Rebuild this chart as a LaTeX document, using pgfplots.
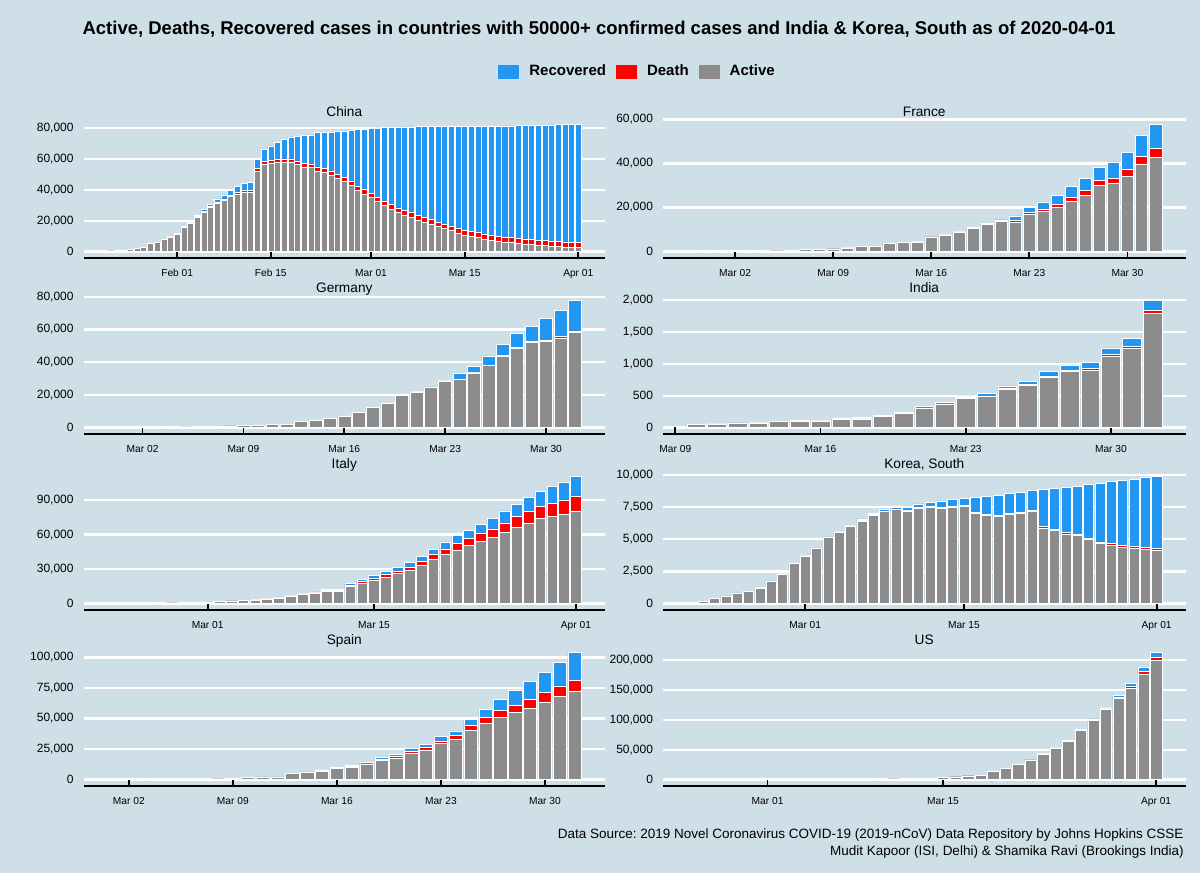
\documentclass[border=0pt]{standalone}
\usepackage{pgfplots}
\usepackage{pgfplotstable}
\pgfplotsset{compat=1.18}
\usepackage{fontspec}
\setmainfont{Liberation Sans}
\frenchspacing
\definecolor{bg}{HTML}{CEDFE7}
\definecolor{rec}{HTML}{2196F3}
\definecolor{dth}{HTML}{FF0000}
\definecolor{act}{HTML}{8C8C8C}

\pgfplotstableread{
d a de r
22 503 17 28
23 595 18 30
24 858 26 36
25 1325 42 39
26 1970 56 49
27 2737 82 58
28 5277 131 101
29 5834 133 120
30 7835 171 135
31 9375 213 214
32 11357 259 275
33 15806 361 463
34 18677 425 614
35 22374 490 843
36 25763 562 1115
37 28479 632 1476
38 31395 717 1998
39 33415 804 2595
40 35707 904 3218
41 37426 1011 3917
42 38640 1111 4635
43 38564 1116 5079
44 52314 1368 6213
45 56865 1520 7973
46 57457 1662 9294
47 58000 1765 10748
48 58116 1863 12455
49 58010 2002 14199
50 56553 2114 15952
51 54839 2236 18002
52 54621 2236 18693
53 51873 2441 22687
54 51409 2443 23170
55 49658 2593 24990
56 47441 2663 27650
57 45398 2715 30053
58 42958 2744 32898
59 39849 2788 36291
60 37242 2835 39279
61 34944 2870 42118
62 32414 2912 44810
63 29912 2945 47404
64 27450 2981 49955
65 25284 3013 52240
66 23760 3042 53888
67 22222 3070 55478
68 20406 3097 57320
69 19005 3120 58735
70 17645 3136 60106
71 16119 3158 61644
72 14862 3169 62901
73 13573 3176 64196
74 12128 3189 65660
75 10787 3199 67017
76 9910 3213 67910
77 9034 3226 68798
78 8110 3237 69755
79 7376 3245 70535
80 6735 3249 71266
81 6193 3255 71857
82 5812 3261 72362
83 5414 3270 72814
84 5034 3277 73280
85 4607 3281 73773
86 4314 3287 74181
87 3885 3292 74720
88 3604 3295 75100
89 3240 3300 75582
90 2971 3304 75923
91 2768 3305 76206
92 2644 3312 76405
}\china

\pgfplotstableread{
d a de r
59 44 2 11
60 86 2 12
61 116 2 12
62 176 3 12
63 188 4 12
64 272 4 12
65 362 6 12
66 635 9 12
67 936 11 12
68 1105 19 12
69 1188 19 12
70 1749 33 12
71 2233 48 12
72 2233 48 12
73 3590 79 12
74 4393 91 12
75 4429 91 12
76 6522 149 12
77 7554 149 12
78 8963 149 12
79 10714 244 12
80 12295 451 12
81 13888 563 12
82 13361 676 2206
83 17055 862 2206
84 18270 1102 3250
85 20360 1333 3907
86 22898 1698 4955
87 25698 1997 5707
88 30064 2317 5724
89 30871 2611 7226
90 34176 3030 7964
91 39782 3532 9513
92 42653 4043 11053
}\france

\pgfplotstableread{
d a de r
60 63 0 16
61 114 0 16
62 143 0 16
63 180 0 16
64 246 0 16
65 466 0 16
66 653 0 17
67 781 0 18
68 1022 0 18
69 1156 2 18
70 1437 2 18
71 1880 3 25
72 2050 3 25
73 3622 7 46
74 4530 9 46
75 5738 11 46
76 7188 17 67
77 9166 24 67
78 12194 28 105
79 15163 44 113
80 19601 67 180
81 21896 84 233
82 24513 94 266
83 28667 123 266
84 29586 157 3243
85 33570 206 3547
86 37998 267 5673
87 43871 342 6658
88 48781 433 8481
89 52351 533 9211
90 52740 645 13500
91 54933 775 16100
92 58252 920 18700
}\germany

\pgfplotstableread{
d a de r
70 52 0 4
71 57 1 4
72 68 1 4
73 76 2 4
74 96 2 4
75 98 2 13
76 104 2 13
77 125 3 14
78 139 3 14
79 175 4 15
80 219 5 20
81 303 4 23
82 362 7 27
83 462 10 27
84 486 10 40
85 602 12 43
86 662 20 45
87 794 20 73
88 879 24 84
89 902 27 95
90 1117 32 102
91 1239 35 123
92 1792 58 148
}\india

\pgfplotstableread{
d a de r
53 59 2 1
54 150 3 2
55 221 7 1
56 311 10 1
57 438 12 3
58 593 17 45
59 821 21 46
60 1053 29 46
61 1577 34 83
62 1835 52 149
63 2263 79 160
64 2706 107 276
65 3296 148 414
66 3916 197 523
67 5061 233 589
68 6387 366 622
69 7985 463 724
70 8794 631 724
71 10590 827 1045
72 10590 827 1045
73 14955 1266 1439
74 17750 1441 1966
75 20603 1809 2335
76 23073 2158 2749
77 26062 2503 2941
78 28710 2978 4025
79 33190 3405 4440
80 38549 4032 4440
81 42681 4825 6072
82 46638 5476 7024
83 50418 6077 7432
84 54030 6820 8326
85 57521 7503 9362
86 62013 8215 10361
87 66414 9134 10950
88 70065 10023 12384
89 73880 10779 13030
90 75528 11591 14620
91 77635 12428 15729
92 80572 13155 16847
}\italy

\pgfplotstableread{
d a de r
51 87 1 16
52 186 2 16
53 415 2 16
54 578 6 18
55 807 8 18
56 945 10 22
57 1227 12 22
58 1731 13 22
59 2302 13 22
60 3107 16 27
61 3689 17 30
62 4277 28 30
63 5128 28 30
64 5545 35 41
65 6012 35 41
66 6416 42 135
67 6862 44 135
68 7146 50 118
69 7307 53 118
70 7212 54 247
71 7407 60 288
72 7470 66 333
73 7403 66 510
74 7504 72 510
75 7577 75 510
76 7024 75 1137
77 6832 81 1407
78 6789 84 1540
79 6934 91 1540
80 7018 94 1540
81 7157 102 1540
82 5884 104 2909
83 5684 111 3166
84 5410 120 3507
85 5281 126 3730
86 4966 131 4144
87 4665 139 4528
88 4523 144 4811
89 4398 152 5033
90 4275 158 5228
91 4216 162 5408
92 4155 165 5567
}\korea

\pgfplotstableread{
d a de r
61 82 0 2
62 118 0 2
63 162 1 2
64 218 2 2
65 254 3 2
66 393 5 2
67 460 10 30
68 626 17 30
69 1013 28 32
70 1628 35 32
71 2040 54 183
72 2039 55 183
73 4906 133 193
74 5679 195 517
75 6992 289 517
76 9070 342 530
77 10187 533 1028
78 12206 623 1081
79 16026 830 1107
80 17779 1043 1588
81 21874 1375 2125
82 24421 1772 2575
83 29470 2311 3355
84 33283 2808 3794
85 40501 3647 5367
86 46406 4365 7015
87 51224 5138 9357
88 54968 5982 12285
89 58598 6803 14709
90 63460 7716 16780
91 68200 8464 19259
92 72084 9387 22647
}\spain

\pgfplotstableread{
d a de r
55 46 0 5
56 46 0 5
57 52 0 5
58 53 0 5
59 53 0 7
60 60 1 7
61 66 1 7
62 85 6 7
63 104 7 7
64 131 11 7
65 198 12 7
66 241 14 7
67 378 17 7
68 490 21 7
69 554 22 7
70 923 28 8
71 1237 36 8
72 1611 40 12
73 2120 47 12
74 2661 54 12
75 3424 63 12
76 4530 85 17
77 6296 108 17
78 7560 118 105
79 13426 200 121
80 18882 244 147
81 25117 307 176
82 32671 427 178
83 43295 552 0
84 52686 706 348
85 64475 942 361
86 81946 1209 681
87 99207 1581 869
88 118367 2026 1072
89 135777 2467 2665
90 153209 2978 5644
91 177275 3873 7024
92 200011 4757 8474
}\us

\pgfplotsset{
  lg/.style={legend image code/.code={\fill[##1,draw=none] (0pt,-3.3pt) rectangle (10.5pt,3.3pt);}},
  every axis title/.style={at={(0.5,1)}, anchor=base, yshift=1pt, font=\fontsize{6.85}{8}\selectfont},
  panel/.style={
    scale only axis, height=70pt, anchor=north west,
    enlargelimits=false,
    axis lines*=left,
    y axis line style={draw=none},
    x axis line style={black, line width=0.7pt},
    ytick style={draw=none},
    xtick style={black, line width=0.9pt},
    tick align=inside, major tick length=3.6pt,
    ymajorgrids, grid style={white, line width=1.2pt},
    ybar stacked, bar width=0.9,
    scaled y ticks=false,
    yticklabel style={font=\fontsize{6}{7}\selectfont, anchor=east, inner sep=0pt, xshift=-4.8pt,
      /pgf/number format/fixed, /pgf/number format/1000 sep={,}, /pgf/number format/assume math mode=true},
    xticklabel style={font=\fontsize{5.1}{6}\selectfont, anchor=north, inner sep=0pt, yshift=-5.3pt},
  },
  lcol/.style={width=260.7pt},
  rcol/.style={width=261.25pt},
  ticksA/.style={xtick={32,46,61,75,92}, xticklabels={Feb 01,Feb 15,Mar 01,Mar 15,Apr 01}},
  ticksB/.style={xtick={62,69,76,83,90}, xticklabels={Mar 02,Mar 09,Mar 16,Mar 23,Mar 30}},
  ticksC/.style={xtick={69,76,83,90}, xticklabels={Mar 09,Mar 16,Mar 23,Mar 30}},
  ticksD/.style={xtick={61,75,92}, xticklabels={Mar 01,Mar 15,Apr 01}},
  pa/.style={fill=act, draw=white, line width=0.25pt, lg},
  pd/.style={fill=dth, draw=white, line width=0.25pt, lg},
  pr/.style={fill=rec, draw=white, line width=0.25pt, lg},
}

\newcommand{\bars}[1]{%
  \addplot[pa] table[x=d,y=a]{#1};
  \addplot[pd] table[x=d,y=de]{#1};
  \addplot[pr] table[x=d,y=r]{#1};
}

\begin{document}
\begin{tikzpicture}
\fill[bg] (0,0) rectangle (600pt,-436.5pt);
\node[inner sep=0pt, font=\bfseries\fontsize{9.25}{11}\selectfont] at (299.5pt,-14.5pt) {Active, Deaths, Recovered cases in countries with 50000+ confirmed cases and India \& Korea, South as of 2020-04-01};

% China
\begin{axis}[panel, lcol, ticksA, at={(41.8pt,-59pt)}, title={China},
  xmin=18.005, xmax=95.995, ymin=-4118, ymax=86479, ytick={0,20000,40000,60000,80000},
  reverse legend, legend columns=3,
  legend style={at={(1.0643,1.3286)}, anchor=center, draw=none, fill=none, inner sep=0pt,
    font=\bfseries\fontsize{7.5}{9}\selectfont,
    /tikz/every odd column/.append style={column sep=3pt},
    /tikz/every even column/.append style={column sep=3pt}}]
\bars{\china}
\addlegendentry{Active}
\addlegendentry{Death}
\addlegendentry{Recovered}
\end{axis}

% France
\begin{axis}[panel, rcol, ticksB, at={(331.5pt,-59pt)}, title={France},
  xmin=56.855, xmax=94.145, ymin=-2887, ymax=60636, ytick={0,20000,40000,60000}]
\bars{\france}
\end{axis}

% Germany
\begin{axis}[panel, lcol, ticksB, at={(41.8pt,-147pt)}, title={Germany},
  xmin=57.905, xmax=94.095, ymin=-3894, ymax=81766, ytick={0,20000,40000,60000,80000}]
\bars{\germany}
\end{axis}

% India
\begin{axis}[panel, rcol, ticksC, at={(331.5pt,-147pt)}, title={India},
  xmin=68.405, xmax=93.595, ymin=-99.9, ymax=2097.9, ytick={0,500,1000,1500,2000}]
\bars{\india}
\end{axis}

% Italy
\begin{axis}[panel, lcol, ticksD, at={(41.8pt,-235pt)}, title={Italy},
  xmin=50.555, xmax=94.445, ymin=-5529, ymax=116103, ytick={0,30000,60000,90000}]
\bars{\italy}
\end{axis}

% Korea
\begin{axis}[panel, rcol, ticksD, at={(331.5pt,-235pt)}, title={Korea, South},
  xmin=48.455, xmax=94.545, ymin=-494, ymax=10381, ytick={0,2500,5000,7500,10000}]
\bars{\korea}
\end{axis}

% Spain
\begin{axis}[panel, lcol, ticksB, at={(41.8pt,-323pt)}, title={Spain},
  xmin=58.955, xmax=94.045, ymin=-5206, ymax=109324, ytick={0,25000,50000,75000,100000}]
\bars{\spain}
\end{axis}

% US
\begin{axis}[panel, rcol, ticksD, at={(331.5pt,-323pt)}, title={US},
  xmin=52.655, xmax=94.345, ymin=-10662, ymax=223904, ytick={0,50000,100000,150000,200000}]
\bars{\us}
\end{axis}

\node[anchor=base east, inner sep=0pt, font=\fontsize{6.75}{8}\selectfont] at (592pt,-419pt) {Data Source: 2019 Novel Coronavirus COVID-19 (2019-nCoV) Data Repository by Johns Hopkins CSSE};
\node[anchor=base east, inner sep=0pt, font=\fontsize{6.75}{8}\selectfont] at (592pt,-427.5pt) {Mudit Kapoor (ISI, Delhi) \& Shamika Ravi (Brookings India)};
\end{tikzpicture}
\end{document}
